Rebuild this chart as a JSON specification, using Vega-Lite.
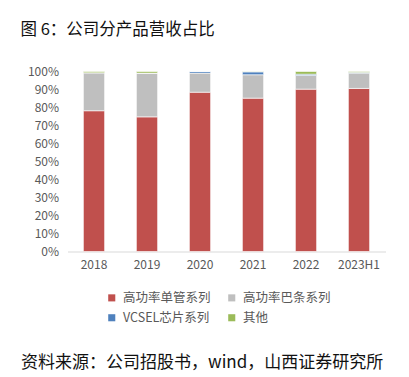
{
  "$schema": "https://vega.github.io/schema/vega-lite/v6.json",
  "autosize": {"type": "none"},
  "width": 318,
  "height": 180,
  "padding": {"left": 67.5, "top": 71.5, "right": 23.5, "bottom": 125.5},
  "background": "#ffffff",
  "title": {
    "text": "图 6：公司分产品营收占比",
    "anchor": "start",
    "frame": "group",
    "dx": -47,
    "offset": 27,
    "font": "Noto Sans CJK SC",
    "fontSize": 16.5,
    "fontWeight": "normal",
    "color": "#111111"
  },
  "data": {
    "values": [
      {"year": "2018", "series": "高功率单管系列", "share": 0.782, "o": 1},
      {"year": "2018", "series": "高功率巴条系列", "share": 0.211, "o": 2},
      {"year": "2018", "series": "VCSEL芯片系列", "share": 0.0, "o": 3},
      {"year": "2018", "series": "其他", "share": 0.007, "o": 4},
      {"year": "2019", "series": "高功率单管系列", "share": 0.748, "o": 1},
      {"year": "2019", "series": "高功率巴条系列", "share": 0.243, "o": 2},
      {"year": "2019", "series": "VCSEL芯片系列", "share": 0.0, "o": 3},
      {"year": "2019", "series": "其他", "share": 0.009, "o": 4},
      {"year": "2020", "series": "高功率单管系列", "share": 0.885, "o": 1},
      {"year": "2020", "series": "高功率巴条系列", "share": 0.106, "o": 2},
      {"year": "2020", "series": "VCSEL芯片系列", "share": 0.009, "o": 3},
      {"year": "2020", "series": "其他", "share": 0.0, "o": 4},
      {"year": "2021", "series": "高功率单管系列", "share": 0.852, "o": 1},
      {"year": "2021", "series": "高功率巴条系列", "share": 0.130, "o": 2},
      {"year": "2021", "series": "VCSEL芯片系列", "share": 0.016, "o": 3},
      {"year": "2021", "series": "其他", "share": 0.002, "o": 4},
      {"year": "2022", "series": "高功率单管系列", "share": 0.902, "o": 1},
      {"year": "2022", "series": "高功率巴条系列", "share": 0.076, "o": 2},
      {"year": "2022", "series": "VCSEL芯片系列", "share": 0.007, "o": 3},
      {"year": "2022", "series": "其他", "share": 0.015, "o": 4},
      {"year": "2023H1", "series": "高功率单管系列", "share": 0.906, "o": 1},
      {"year": "2023H1", "series": "高功率巴条系列", "share": 0.085, "o": 2},
      {"year": "2023H1", "series": "VCSEL芯片系列", "share": 0.004, "o": 3},
      {"year": "2023H1", "series": "其他", "share": 0.005, "o": 4}
    ]
  },
  "mark": {"type": "bar", "stroke": "#ffffff", "strokeWidth": 0.6},
  "encoding": {
    "x": {
      "field": "year",
      "type": "ordinal",
      "sort": null,
      "scale": {"paddingInner": 0.6, "paddingOuter": 0.3},
      "axis": {
        "title": "资料来源：公司招股书，wind，山西证券研究所",
        "titleFont": "Noto Sans CJK SC",
        "titleFontSize": 17,
        "titleFontWeight": "normal",
        "titleColor": "#111111",
        "titleAnchor": "start",
        "titleAlign": "left",
        "titleBaseline": "middle",
        "titleX": -47,
        "titleY": 111,
        "labelAngle": 0,
        "labelFont": "Noto Sans CJK SC",
        "labelFontSize": 12,
        "labelColor": "#595959",
        "labelPadding": 8,
        "ticks": false,
        "domainColor": "#D9D9D9",
        "domainWidth": 1
      }
    },
    "y": {
      "field": "share",
      "type": "quantitative",
      "stack": "zero",
      "scale": {"domain": [0, 1], "nice": false},
      "axis": {
        "title": null,
        "format": ".0%",
        "values": [0, 0.1, 0.2, 0.3, 0.4, 0.5, 0.6, 0.7, 0.8, 0.9, 1],
        "grid": false,
        "domain": false,
        "ticks": false,
        "labelFont": "Noto Sans CJK SC",
        "labelFontSize": 12,
        "labelColor": "#595959",
        "labelPadding": 9
      }
    },
    "order": {"field": "o", "type": "quantitative"},
    "color": {
      "field": "series",
      "type": "nominal",
      "scale": {
        "domain": ["高功率单管系列", "高功率巴条系列", "VCSEL芯片系列", "其他"],
        "range": ["#C0504D", "#BFBFBF", "#4F81BD", "#9BBB59"]
      },
      "legend": {
        "title": null,
        "orient": "none",
        "direction": "horizontal",
        "legendX": 38,
        "legendY": 220,
        "columns": 2,
        "columnPadding": 14,
        "rowPadding": 7,
        "symbolType": "square",
        "symbolSize": 50,
        "symbolStrokeWidth": 0,
        "labelFont": "Noto Sans CJK SC",
        "labelFontSize": 12.5,
        "labelColor": "#595959",
        "labelOffset": 5
      }
    }
  },
  "config": {"view": {"stroke": null}}
}
